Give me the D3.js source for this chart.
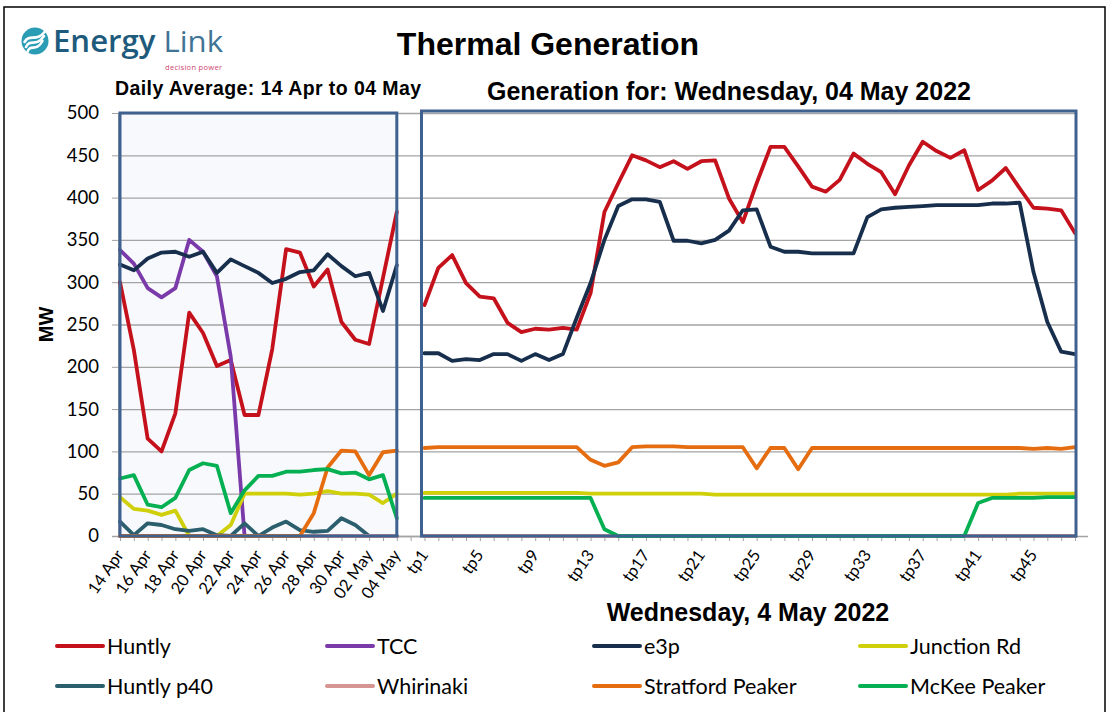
<!DOCTYPE html>
<html>
<head>
<meta charset="utf-8">
<script src="https://cdn.jsdelivr.net/npm/d3@7"></script>
<style>
  html, body { margin: 0; padding: 0; background: #fff; }
  svg { display: block; }
  .tick text { font-family: Lato, "Liberation Sans", sans-serif; fill: #000; }
</style>
</head>
<body>
<div id="chart"></div>
<script>
// Daily averages, 14 Apr .. 04 May
const days = ['14 Apr','15 Apr','16 Apr','17 Apr','18 Apr','19 Apr','20 Apr','21 Apr','22 Apr','23 Apr',
  '24 Apr','25 Apr','26 Apr','27 Apr','28 Apr','29 Apr','30 Apr','01 May','02 May','03 May','04 May']
// Trading periods for 04 May
const tps = d3.range(1, 49).map(i => 'tp' + i)

const dailyHuntly     = [300,220,115,100,145,264,240,201,208,143,143,221,339,335,295,315,253,232,227,305,383]
const dailyTCC        = [338,322,293,282,293,350,336,307,212,0,0,0,0,0,0,0,0,0,0,0,0]
const dailyE3p        = [321,314,328,335,336,330,336,311,327,319,311,299,304,312,314,333,319,307,311,266,320]
const dailyJunction   = [46,32,30,25,30,0,0,0,13,50,50,50,50,49,50,53,50,50,49,39,50]
const dailyP40        = [17,1,15,13,8,6,8,1,0,15,0,10,17,7,5,6,21,13,0,0,0]
const dailyWhirinaki  = [0,0,0,0,0,0,0,0,0,0,0,0,0,0,0,0,0,0,0,0,0]
const dailyStratford  = [0,0,0,0,0,0,0,0,0,0,0,0,0,0,27,81,101,100,72,99,101]
const dailyMcKee      = [68,72,37,34,45,78,86,83,27,54,71,71,76,76,78,79,74,75,67,72,21]

const tpHuntly    = [273,317,332,299,283,281,252,241,245,244,246,244,287,383,417,450,444,436,443,434,443,444,399,371,
  417,460,460,437,413,407,421,452,440,430,404,438,466,455,447,456,409,420,435,411,388,387,385,358]
const tpTCC       = new Array(48).fill(0)
const tpE3p       = [216,216,207,209,208,215,215,207,215,208,215,258,299,350,390,398,398,395,349,349,346,350,361,385,
  386,342,336,336,334,334,334,334,377,386,388,389,390,391,391,391,391,393,393,394,312,253,218,215]
const tpJunction  = [51,51,51,51,51,51,51,51,51,51,51,51,50,50,50,50,50,50,50,50,50,49,49,49,
  49,49,49,49,49,49,49,49,49,49,49,49,49,49,49,49,49,49,49,50,50,50,50,50]
const tpP40       = new Array(48).fill(0)
const tpWhirinaki = new Array(48).fill(0)
const tpStratford = [104,105,105,105,105,105,105,105,105,105,105,105,90,83,87,105,106,106,106,105,105,105,105,105,
  80,104,104,79,104,104,104,104,104,104,104,104,104,104,104,104,104,104,104,104,103,104,103,105]
const tpMcKee     = [45,45,45,45,45,45,45,45,45,45,45,45,45,8,0,0,0,0,0,0,0,0,0,0,
  0,0,0,0,0,0,0,0,0,0,0,0,0,0,0,0,39,45,45,45,45,46,46,46]

const yTicks = d3.range(0, 501, 50)

const series = [
  { name: 'Huntly',           color: '#c4111b', daily: dailyHuntly,    tp: tpHuntly },
  { name: 'TCC',              color: '#7a3aa9', daily: dailyTCC,       tp: tpTCC },
  { name: 'e3p',              color: '#172f4c', daily: dailyE3p,       tp: tpE3p },
  { name: 'Junction Rd',      color: '#cfcf0a', daily: dailyJunction,  tp: tpJunction },
  { name: 'Huntly p40',       color: '#2c5f6d', daily: dailyP40,       tp: tpP40 },
  { name: 'Whirinaki',        color: '#d69593', daily: dailyWhirinaki, tp: tpWhirinaki },
  { name: 'Stratford Peaker', color: '#e56d10', daily: dailyStratford, tp: tpStratford },
  { name: 'McKee Peaker',     color: '#05b052', daily: dailyMcKee,     tp: tpMcKee },
]

const W = 1110, H = 712
const svg = d3.select('#chart').append('svg').attr('width', W).attr('height', H)

// One shared category axis: days, one empty slot, trading periods
const cats = [...days, ' ', ...tps]
const x = d3.scalePoint().domain(cats).range([120, 1075])
const y = d3.scaleLinear().domain([0, 500]).range([536, 113])

// outer frame
svg.append('rect').attr('x', 4).attr('y', 7).attr('width', 1101).attr('height', 730)
  .attr('fill', 'none').attr('stroke', '#000').attr('stroke-width', 1.5)

// logo
const logo = svg.append('g')
logo.append('circle').attr('cx', 35).attr('cy', 41).attr('r', 13.5).attr('fill', '#2a9cb4')
;[-5, 0, 5].forEach(o => {
  logo.append('path')
    .attr('d', `M${26 + o * 0.3},${47 + o} C${30},${38 + o} ${36},${48 + o} ${44 - o * 0.3},${36 + o}`)
    .attr('fill', 'none').attr('stroke', '#fff').attr('stroke-width', 2.6).attr('stroke-linecap', 'round')
})
logo.append('text').attr('x', 53).attr('y', 52)
  .attr('font-family', '"Open Sans", sans-serif').attr('font-size', 30)
  .attr('textLength', 170).attr('lengthAdjust', 'spacingAndGlyphs')
  .selectAll('tspan').data([['Energy ', '#1d5a7b', 600], ['Link', '#3f7494', 400]]).join('tspan')
  .attr('fill', d => d[1]).attr('font-weight', d => d[2]).text(d => d[0])
logo.append('text').attr('x', 165).attr('y', 70)
  .attr('font-family', '"Open Sans", sans-serif').attr('font-size', 7.5).attr('fill', '#cf3f73')
  .attr('textLength', 57).text('decision power')

// titles
const bold = sel => sel.attr('font-family', '"Liberation Sans", Arial, sans-serif').attr('font-weight', 'bold').attr('fill', '#000')
svg.append('text').call(bold).attr('x', 548).attr('y', 55).attr('font-size', 32)
  .attr('text-anchor', 'middle').text('Thermal Generation')
svg.append('text').call(bold).attr('x', 268).attr('y', 95).attr('font-size', 19.5)
  .attr('text-anchor', 'middle').attr('textLength', 306).text('Daily Average: 14 Apr to 04 May')
svg.append('text').call(bold).attr('x', 729).attr('y', 100).attr('font-size', 25)
  .attr('text-anchor', 'middle').text('Generation for: Wednesday, 04 May 2022')
svg.append('text').call(bold).attr('x', 748).attr('y', 621).attr('font-size', 25)
  .attr('text-anchor', 'middle').text('Wednesday, 4 May 2022')
svg.append('text').call(bold).attr('font-size', 20).attr('text-anchor', 'middle')
  .attr('transform', `translate(53,${y(250)}) rotate(-90)`).text('MW')

// panel backgrounds
const leftX0 = x(days[0]), leftX1 = x(days[days.length - 1])
const rightX0 = x(tps[0]) - 3, rightX1 = x(tps[tps.length - 1]) + 1
svg.append('rect').attr('x', leftX0).attr('y', y(500)).attr('width', leftX1 - leftX0)
  .attr('height', y(0) - y(500)).attr('fill', '#f8f9fc')

// gridlines
svg.append('g').attr('transform', `translate(${leftX0 - 2},0)`)
  .call(d3.axisLeft(y).tickValues(yTicks).tickSize(-(rightX1 - leftX0 + 2)).tickFormat(''))
  .call(g => g.select('.domain').remove())
  .call(g => g.selectAll('line').attr('stroke', '#a3a3a3').attr('stroke-width', 1.3))

// y axis
svg.append('g').attr('transform', `translate(${leftX0 - 2},0)`)
  .call(d3.axisLeft(y).tickValues(yTicks).tickSize(6).tickPadding(13))
  .call(g => g.select('.domain').attr('stroke', '#a3a3a3'))
  .call(g => g.selectAll('line').attr('stroke', '#a3a3a3'))
  .call(g => g.selectAll('text').attr('font-size', 18.5))

// x axis
const labelOf = c => {
  const di = days.indexOf(c)
  if (di >= 0) return di % 2 === 0 ? c : ''
  const ti = tps.indexOf(c)
  if (ti >= 0) return ti % 4 === 0 ? c : ''
  return ''
}
svg.append('g').attr('transform', `translate(0,${y(0)})`)
  .call(d3.axisBottom(x).tickSize(5).tickSizeOuter(0).tickFormat(labelOf))
  .call(g => g.select('.domain').attr('stroke', '#a3a3a3').attr('stroke-width', 1.3)
    .attr('d', `M${leftX0 - 8},0.5H${rightX1 + 12}`))
  .call(g => g.selectAll('line').attr('stroke', '#a3a3a3'))
  .call(g => g.selectAll('text').attr('font-size', 16.5).attr('text-anchor', 'end')
    .attr('y', 0).attr('dy', 0).attr('transform', 'translate(4,19) rotate(-55)'))

// lines
const line = d3.line().x(d => x(d[0])).y(d => y(d[1]))
const plot = svg.append('g').attr('fill', 'none').attr('stroke-width', 3.8)
  .attr('stroke-linejoin', 'round').attr('stroke-linecap', 'round')
series.forEach(s => {
  plot.append('path').attr('stroke', s.color).attr('d', line(days.map((d, i) => [d, s.daily[i]])))
  plot.append('path').attr('stroke', s.color).attr('d', line(tps.map((d, i) => [d, s.tp[i]])))
})

// panel borders
const border = '#3e6190'
svg.append('rect').attr('x', leftX0).attr('y', y(500)).attr('width', leftX1 - leftX0)
  .attr('height', y(0) - y(500)).attr('fill', 'none').attr('stroke', border).attr('stroke-width', 3)
svg.append('rect').attr('x', rightX0).attr('y', y(500) - 2).attr('width', rightX1 - rightX0)
  .attr('height', y(0) - y(500) + 2).attr('fill', 'none').attr('stroke', border).attr('stroke-width', 3)

// legend
const legCols = [57, 327, 594, 860], legRows = [646, 686]
const leg = svg.append('g').selectAll('g').data(series).join('g')
  .attr('transform', (d, i) => `translate(${legCols[i % 4]},${legRows[Math.floor(i / 4)]})`)
leg.append('line').attr('x1', 0).attr('x2', 46).attr('stroke', d => d.color)
  .attr('stroke-width', 4).attr('stroke-linecap', 'round')
leg.append('text').attr('x', 50).attr('dy', '0.36em')
  .attr('font-family', 'Lato, sans-serif').attr('font-size', 21.5).attr('fill', '#000')
  .text(d => d.name)
</script>
</body>
</html>
